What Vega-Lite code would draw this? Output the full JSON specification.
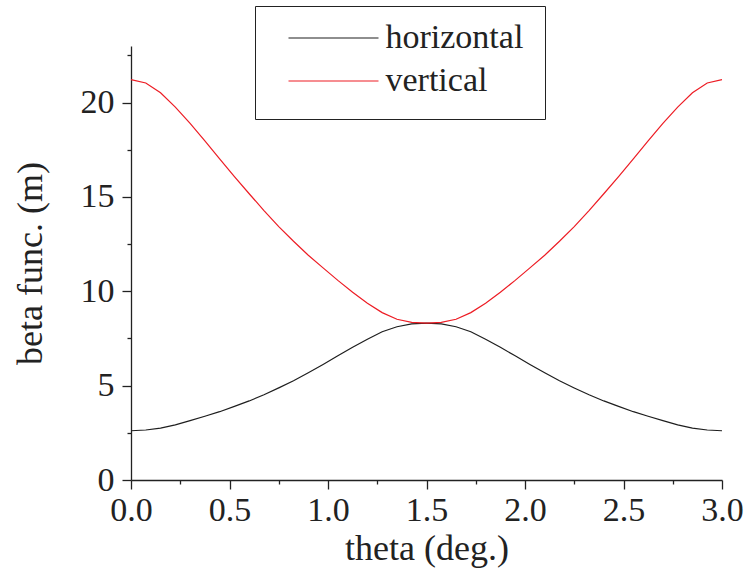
{
  "$schema": "https://vega.github.io/schema/vega-lite/v6.json",
  "autosize": {"type": "none"},
  "width": 591,
  "height": 434,
  "padding": {"left": 131, "top": 46, "right": 25, "bottom": 104},
  "background": "white",
  "config": {
    "view": {"stroke": null},
    "font": "Liberation Serif",
    "axis": {"grid": false, "domainColor": "#222", "tickColor": "#222", "labelColor": "#222", "titleColor": "#222", "labelFont": "Liberation Serif", "titleFont": "Liberation Serif", "labelFontSize": 34, "titleFontSize": 36, "titleFontWeight": "normal", "domainWidth": 1.3, "tickWidth": 1.3}
  },
  "data": {"values": [
    {"theta": 0, "beta": 2.61, "plane": "horizontal"},
    {"theta": 0.075, "beta": 2.65, "plane": "horizontal"},
    {"theta": 0.15, "beta": 2.75, "plane": "horizontal"},
    {"theta": 0.225, "beta": 2.92, "plane": "horizontal"},
    {"theta": 0.3, "beta": 3.15, "plane": "horizontal"},
    {"theta": 0.375, "beta": 3.38, "plane": "horizontal"},
    {"theta": 0.45, "beta": 3.62, "plane": "horizontal"},
    {"theta": 0.525, "beta": 3.9, "plane": "horizontal"},
    {"theta": 0.6, "beta": 4.19, "plane": "horizontal"},
    {"theta": 0.675, "beta": 4.52, "plane": "horizontal"},
    {"theta": 0.75, "beta": 4.88, "plane": "horizontal"},
    {"theta": 0.825, "beta": 5.26, "plane": "horizontal"},
    {"theta": 0.9, "beta": 5.68, "plane": "horizontal"},
    {"theta": 0.975, "beta": 6.12, "plane": "horizontal"},
    {"theta": 1.05, "beta": 6.58, "plane": "horizontal"},
    {"theta": 1.125, "beta": 7.03, "plane": "horizontal"},
    {"theta": 1.2, "beta": 7.46, "plane": "horizontal"},
    {"theta": 1.275, "beta": 7.86, "plane": "horizontal"},
    {"theta": 1.35, "beta": 8.12, "plane": "horizontal"},
    {"theta": 1.425, "beta": 8.27, "plane": "horizontal"},
    {"theta": 1.5, "beta": 8.31, "plane": "horizontal"},
    {"theta": 1.575, "beta": 8.27, "plane": "horizontal"},
    {"theta": 1.65, "beta": 8.12, "plane": "horizontal"},
    {"theta": 1.725, "beta": 7.86, "plane": "horizontal"},
    {"theta": 1.8, "beta": 7.46, "plane": "horizontal"},
    {"theta": 1.875, "beta": 7.03, "plane": "horizontal"},
    {"theta": 1.95, "beta": 6.58, "plane": "horizontal"},
    {"theta": 2.025, "beta": 6.12, "plane": "horizontal"},
    {"theta": 2.1, "beta": 5.68, "plane": "horizontal"},
    {"theta": 2.175, "beta": 5.26, "plane": "horizontal"},
    {"theta": 2.25, "beta": 4.88, "plane": "horizontal"},
    {"theta": 2.325, "beta": 4.52, "plane": "horizontal"},
    {"theta": 2.4, "beta": 4.19, "plane": "horizontal"},
    {"theta": 2.475, "beta": 3.9, "plane": "horizontal"},
    {"theta": 2.55, "beta": 3.62, "plane": "horizontal"},
    {"theta": 2.625, "beta": 3.38, "plane": "horizontal"},
    {"theta": 2.7, "beta": 3.15, "plane": "horizontal"},
    {"theta": 2.775, "beta": 2.92, "plane": "horizontal"},
    {"theta": 2.85, "beta": 2.75, "plane": "horizontal"},
    {"theta": 2.925, "beta": 2.65, "plane": "horizontal"},
    {"theta": 3.0, "beta": 2.61, "plane": "horizontal"},
    {"theta": 0, "beta": 21.22, "plane": "vertical"},
    {"theta": 0.075, "beta": 21.04, "plane": "vertical"},
    {"theta": 0.15, "beta": 20.52, "plane": "vertical"},
    {"theta": 0.225, "beta": 19.76, "plane": "vertical"},
    {"theta": 0.3, "beta": 18.9, "plane": "vertical"},
    {"theta": 0.375, "beta": 17.97, "plane": "vertical"},
    {"theta": 0.45, "beta": 17.02, "plane": "vertical"},
    {"theta": 0.525, "beta": 16.08, "plane": "vertical"},
    {"theta": 0.6, "beta": 15.17, "plane": "vertical"},
    {"theta": 0.675, "beta": 14.28, "plane": "vertical"},
    {"theta": 0.75, "beta": 13.43, "plane": "vertical"},
    {"theta": 0.825, "beta": 12.65, "plane": "vertical"},
    {"theta": 0.9, "beta": 11.91, "plane": "vertical"},
    {"theta": 0.975, "beta": 11.24, "plane": "vertical"},
    {"theta": 1.05, "beta": 10.58, "plane": "vertical"},
    {"theta": 1.125, "beta": 9.95, "plane": "vertical"},
    {"theta": 1.2, "beta": 9.37, "plane": "vertical"},
    {"theta": 1.275, "beta": 8.87, "plane": "vertical"},
    {"theta": 1.35, "beta": 8.52, "plane": "vertical"},
    {"theta": 1.425, "beta": 8.35, "plane": "vertical"},
    {"theta": 1.5, "beta": 8.31, "plane": "vertical"},
    {"theta": 1.575, "beta": 8.35, "plane": "vertical"},
    {"theta": 1.65, "beta": 8.52, "plane": "vertical"},
    {"theta": 1.725, "beta": 8.87, "plane": "vertical"},
    {"theta": 1.8, "beta": 9.37, "plane": "vertical"},
    {"theta": 1.875, "beta": 9.95, "plane": "vertical"},
    {"theta": 1.95, "beta": 10.58, "plane": "vertical"},
    {"theta": 2.025, "beta": 11.24, "plane": "vertical"},
    {"theta": 2.1, "beta": 11.91, "plane": "vertical"},
    {"theta": 2.175, "beta": 12.65, "plane": "vertical"},
    {"theta": 2.25, "beta": 13.43, "plane": "vertical"},
    {"theta": 2.325, "beta": 14.28, "plane": "vertical"},
    {"theta": 2.4, "beta": 15.17, "plane": "vertical"},
    {"theta": 2.475, "beta": 16.08, "plane": "vertical"},
    {"theta": 2.55, "beta": 17.02, "plane": "vertical"},
    {"theta": 2.625, "beta": 17.97, "plane": "vertical"},
    {"theta": 2.7, "beta": 18.9, "plane": "vertical"},
    {"theta": 2.775, "beta": 19.76, "plane": "vertical"},
    {"theta": 2.85, "beta": 20.52, "plane": "vertical"},
    {"theta": 2.925, "beta": 21.04, "plane": "vertical"},
    {"theta": 3.0, "beta": 21.22, "plane": "vertical"}
  ]},
  "layer": [
    {
      "mark": {"type": "line", "strokeWidth": 1.2, "strokeOpacity": 0},
      "encoding": {
        "x": {
          "field": "theta", "type": "quantitative",
          "scale": {"domain": [0, 3], "nice": false, "zero": false},
          "axis": {"orient": "bottom", "title": null, "values": [0.25, 0.75, 1.25, 1.75, 2.25, 2.75], "labels": false, "domain": false, "tickSize": 4}
        },
        "y": {
          "field": "beta", "type": "quantitative",
          "scale": {"domain": [0, 23], "nice": false},
          "axis": {"orient": "left", "title": null, "values": [2.5, 7.5, 12.5, 17.5, 22.5], "labels": false, "domain": false, "tickSize": 4}
        },
        "detail": {"field": "plane", "type": "nominal"}
      }
    },
    {
      "mark": {"type": "line", "strokeWidth": 1.2},
      "encoding": {
        "x": {
          "field": "theta", "type": "quantitative",
          "scale": {"domain": [0, 3], "nice": false, "zero": false},
          "axis": {
            "orient": "bottom",
            "title": "theta (deg.)",
            "values": [0, 0.5, 1, 1.5, 2, 2.5, 3],
            "format": ".1f",
            "tickSize": 9,
            "labelPadding": 4,
            "titlePadding": 4,
            "labelFlush": false,
            "labelOverlap": false
          }
        },
        "y": {
          "field": "beta", "type": "quantitative",
          "scale": {"domain": [0, 23], "nice": false},
          "axis": {
            "orient": "left",
            "title": "beta func. (m)",
            "values": [0, 5, 10, 15, 20],
            "format": "d",
            "tickSize": 9,
            "labelPadding": 8,
            "titlePadding": 31,
            "labelOverlap": false
          }
        },
        "color": {
          "field": "plane", "type": "nominal",
          "scale": {"domain": ["horizontal", "vertical"], "range": ["#1e1e1e", "#ed1c24"]},
          "legend": {
            "title": "\u00a0",
            "titleOrient": "right",
            "titleFontSize": 84,
            "titleBaseline": "top",
            "titleAnchor": "start",
            "titlePadding": 6.5,
            "orient": "none",
            "legendX": 124,
            "legendY": -40,
            "symbolType": "M-3,0H3",
            "symbolSize": 900,
            "symbolStrokeWidth": 1.2,
            "symbolOffset": 46.5,
            "labelFont": "Liberation Serif",
            "labelFontSize": 34,
            "labelColor": "#222",
            "labelOffset": 35,
            "rowPadding": 9,
            "padding": 15,
            "strokeColor": "#222",
            "fillColor": "white"
          }
        }
      }
    }
  ],
  "resolve": {"axis": {"x": "independent", "y": "independent"}}
}
